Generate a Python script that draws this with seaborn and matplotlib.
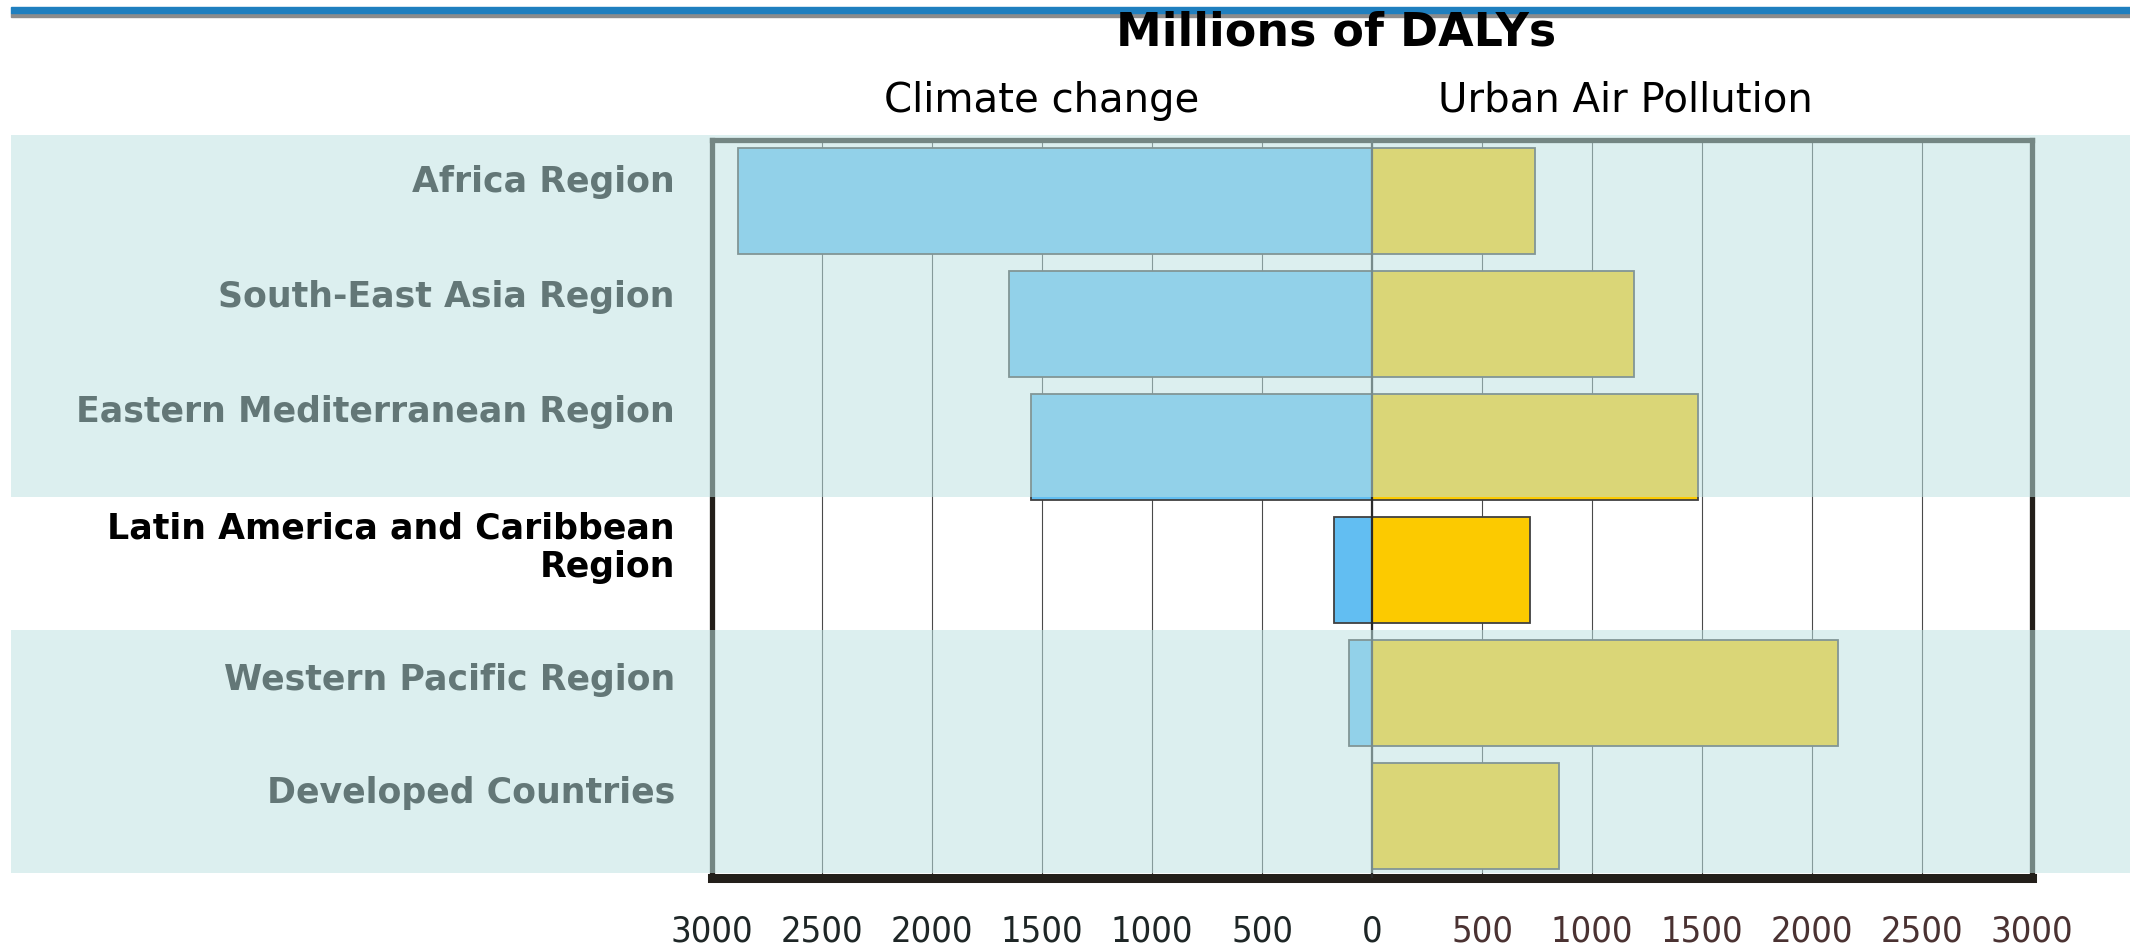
import numpy as np
import pandas as pd
import seaborn as sns
import matplotlib.pyplot as plt
from matplotlib import font_manager
from matplotlib.patches import Rectangle

# data (millions of DALYs)
regions = [
    "Africa Region",
    "South-East Asia Region",
    "Eastern Mediterranean Region",
    "Latin America and Caribbean\nRegion",
    "Western Pacific Region",
    "Developed Countries",
]
climate_change = [2880, 1650, 1550, 175, 105, 0]
urban_air = [740, 1193, 1481, 716, 2118, 852]
tick_values = [-3000, -2500, -2000, -1500, -1000, -500, 0, 500, 1000, 1500, 2000, 2500, 3000]

sns.set_style("white")
plt.rcParams["font.family"] = ["DejaVu Sans"]

# a narrow regular face for the axis numbers, if one is installed
def _is_regular(f):
    return f.style == "normal" and f.weight in (400, "normal", "regular", "book")

narrow_fonts = [f for f in font_manager.fontManager.ttflist
                if ("Narrow" in f.name or "Condensed" in f.name
                    or f.stretch in ("condensed", "semi-condensed"))
                and _is_regular(f)]
lib_narrow = [f for f in narrow_fonts if "Liberation Sans Narrow" in f.name]
if lib_narrow:
    tick_font = font_manager.FontProperties(fname=lib_narrow[0].fname, size=28)
elif narrow_fonts:
    tick_font = font_manager.FontProperties(fname=narrow_fonts[0].fname, size=26)
else:
    tick_font = font_manager.FontProperties(family="Liberation Sans", size=23)

W, H = 2130, 950
fig = plt.figure(figsize=(W / 100, H / 100), dpi=100)
fig.patch.set_facecolor("white")


def fx(px):
    return px / W


def fy(py):
    return 1 - py / H


ax = fig.add_axes([fx(712), fy(877.5), fx(2032) - fx(712), fy(139.5) - fy(877.5)])
ax.set_facecolor("none")

df = pd.DataFrame({"region": regions, "climate": climate_change, "urban": urban_air})
df["climate_neg"] = -df["climate"]

blue = ["#62BEF2"] * len(regions)
yellow = ["#FCCA00"] * len(regions)

sns.barplot(data=df, x="climate_neg", y="region", hue="region", palette=blue,
            orient="h", width=0.86, saturation=1, legend=False, ax=ax,
            edgecolor="#404040", linewidth=1.3)
sns.barplot(data=df, x="urban", y="region", hue="region", palette=yellow,
            orient="h", width=0.86, saturation=1, legend=False, ax=ax,
            edgecolor="#404040", linewidth=1.3)

ax.set_xlim(-3000, 3000)
ax.set_ylim(len(regions) - 0.5, -0.5)
ax.set_axisbelow(True)
ax.xaxis.grid(True, color="#4A4A4A", linewidth=0.8)
ax.yaxis.grid(False)
ax.axvline(0, color="#2a2a2a", linewidth=1.6, zorder=5)

ax.set_xticks(tick_values)
ax.set_xticklabels([str(abs(v)) for v in tick_values])
ax.tick_params(axis="x", length=0, pad=27)
for lab, v in zip(ax.get_xticklabels(), tick_values):
    lab.set_fontproperties(tick_font)
    lab.set_color("#1E2626" if v <= 0 else "#4A3232")
ax.set_yticks([])
ax.set_xlabel("")
ax.set_ylabel("")

for side in ["left", "right", "top"]:
    ax.spines[side].set_color("#231F1A")
    ax.spines[side].set_linewidth(3.8)
ax.spines["bottom"].set_color("#231F1A")
ax.spines["bottom"].set_linewidth(6.5)

# row labels (baseline of the last line of each label)
label_baselines = [192, 307, 422, 577, 690, 803]
for name, yb in zip(regions, label_baselines):
    fig.text(fx(675), fy(yb), name, ha="right", va="baseline",
             fontsize=25, fontweight="bold", color="black", linespacing=1.15)

# headers
fig.text(fx(1336), fy(45), "Millions of DALYs", ha="center", va="baseline",
         fontsize=33, fontweight="bold", color="black", zorder=20)
fig.text(fx(1042), fy(112), "Climate change", ha="center", va="baseline",
         fontsize=29, color="black")
fig.text(fx(1625), fy(112), "Urban Air Pollution", ha="center", va="baseline",
         fontsize=29, color="black")

# slide decoration: blue rule with shadow
fig.add_artist(Rectangle((fx(11), fy(17)), 1 - fx(11), fy(12.7) - fy(17),
                         transform=fig.transFigure, color="#8C8C8C", zorder=15))
fig.add_artist(Rectangle((fx(11), fy(12.7)), 1 - fx(11), fy(7) - fy(12.7),
                         transform=fig.transFigure, color="#1F7FBF", zorder=16))

# translucent wash over every row except the highlighted one
for top, bottom in [(135, 497), (630, 873)]:
    fig.add_artist(Rectangle((fx(11), fy(bottom)), 1 - fx(11), fy(top) - fy(bottom),
                             transform=fig.transFigure, facecolor="#BDE2E2",
                             edgecolor="none", alpha=0.53, zorder=10))

fig.savefig("out.png", dpi=100)
